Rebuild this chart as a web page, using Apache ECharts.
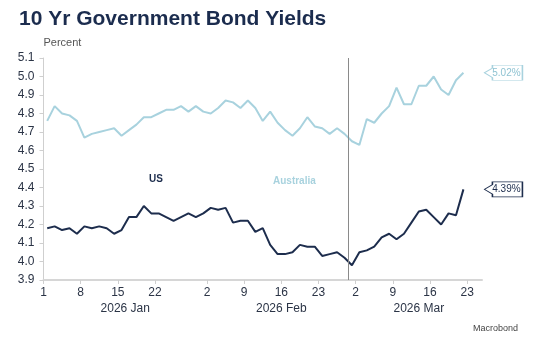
<!DOCTYPE html>
<html>
<head>
<meta charset="utf-8">
<script src="https://cdn.jsdelivr.net/npm/echarts@6/dist/echarts.min.js"></script>
<style>html,body{margin:0;padding:0;background:#fff;}#c{width:538px;height:347px;}</style>
</head>
<body>
<div id="c"></div>
<script>
// Business-day dates (data points)
const dates = [
 '2026-01-02','2026-01-05','2026-01-06','2026-01-07','2026-01-08','2026-01-09',
 '2026-01-12','2026-01-13','2026-01-14','2026-01-15','2026-01-16',
 '2026-01-19','2026-01-20','2026-01-21','2026-01-22','2026-01-23',
 '2026-01-26','2026-01-27','2026-01-28','2026-01-29','2026-01-30',
 '2026-02-02','2026-02-03','2026-02-04','2026-02-05','2026-02-06',
 '2026-02-09','2026-02-10','2026-02-11','2026-02-12','2026-02-13',
 '2026-02-16','2026-02-17','2026-02-18','2026-02-19','2026-02-20',
 '2026-02-23','2026-02-24','2026-02-25','2026-02-26','2026-02-27',
 '2026-03-02','2026-03-03','2026-03-04','2026-03-05','2026-03-06',
 '2026-03-09','2026-03-10','2026-03-11','2026-03-12','2026-03-13',
 '2026-03-16','2026-03-17','2026-03-18','2026-03-19','2026-03-20',
 '2026-03-23'
];
const usYield = [
 4.18,4.19,4.17,4.18,4.15,4.19,4.18,4.19,4.18,4.15,4.17,
 4.24,4.24,4.30,4.26,4.26,4.24,4.22,4.24,4.26,4.24,
 4.26,4.29,4.28,4.29,4.21,4.22,4.22,4.16,4.18,4.09,
 4.04,4.04,4.05,4.09,4.08,4.08,4.03,4.04,4.05,4.02,
 3.98,4.05,4.06,4.08,4.13,4.15,4.12,4.15,4.21,4.27,
 4.28,4.24,4.20,4.26,4.25,4.39
];
const auYield = [
 4.76,4.84,4.80,4.79,4.76,4.67,4.69,4.70,4.71,4.72,4.68,
 4.71,4.74,4.78,4.78,4.80,4.82,4.82,4.84,4.81,4.84,
 4.81,4.80,4.83,4.87,4.86,4.83,4.87,4.83,4.76,4.81,
 4.75,4.71,4.68,4.72,4.78,4.73,4.72,4.69,4.72,4.69,
 4.65,4.63,4.77,4.75,4.80,4.84,4.94,4.85,4.85,4.95,
 4.95,5.00,4.93,4.90,4.98,5.02
];
const tickDates = ['2026-01-01','2026-01-08','2026-01-15','2026-01-22','2026-02-02','2026-02-09',
 '2026-02-16','2026-02-23','2026-03-02','2026-03-09','2026-03-16','2026-03-23'];
const monthStarts = ['2026-01-01','2026-02-02','2026-03-02'];
const monthNames = ['2026 Jan','2026 Feb','2026 Mar'];
const axisEndDate = '2026-03-25';
const markerDate = '2026-02-27';
const yTicks = {min: 3.9, max: 5.1, step: 0.1};

const US_COLOR = '#1d2d4d';
const AU_COLOR = '#a8d2de';
const TEXT = '#2b3446';
const FONT = 'Liberation Sans, Arial, sans-serif';

function parse(s){ const [y,m,d] = s.split('-').map(Number); return new Date(Date.UTC(y,m-1,d)); }
const origin = parse('2026-01-01');
function biz(s){
  const t = parse(s); let n = 0; const d = new Date(origin);
  while (d < t){ d.setUTCDate(d.getUTCDate()+1); const w = d.getUTCDay(); if (w!==0 && w!==6) n++; }
  return n;
}
const xMax = biz(axisEndDate);
const tickIdx = tickDates.map(biz);
const tickDay = {}; tickDates.forEach((s,i)=>{ tickDay[tickIdx[i]] = String(Number(s.slice(8))); });
const mIdx = monthStarts.map(biz).concat([xMax]);
const monthCenters = monthNames.map((n,i)=> (mIdx[i]+mIdx[i+1])/2);
const monthLabel = {}; monthCenters.forEach((c,i)=>{ monthLabel[c] = monthNames[i]; });

const usData = dates.map((d,i)=>[biz(d)-0.5, usYield[i]]);
const auData = dates.map((d,i)=>[biz(d)-0.5, auYield[i]]);

function callout(series, color, val){
  const last = series[series.length-1];
  return {
    symbol: 'path://M0,8 L8,3 L8,0 L38,0 L38,16 L8,16 L8,13 Z',
    symbolSize: [38, 15],
    symbolKeepAspect: false,
    symbolOffset: [40, 0],
    silent: true,
    animation: false,
    itemStyle: {color: '#fff', borderColor: color, borderWidth: 1},
    label: {show: true, position: 'inside', offset: [3, 0], formatter: val.toFixed(2) + '%',
      color: color === AU_COLOR ? '#8fc3d2' : US_COLOR, fontSize: 10, fontFamily: FONT},
    data: [{coord: last}]
  };
}

const chart = echarts.init(document.getElementById('c'), null, {renderer: 'canvas'});
chart.setOption({
  animation: false,
  backgroundColor: '#fff',
  title: {text: '10 Yr Government Bond Yields', left: 19, top: 9, padding: 0,
    textStyle: {fontSize: 21, fontWeight: 'bold', color: '#1b2c4e', fontFamily: FONT}},
  grid: {left: 43.5, right: 56, top: 58, bottom: 67},
  xAxis: [{
    type: 'value', min: 0, max: xMax,
    axisLine: {show: true, onZero: false, lineStyle: {color: '#d6d6d6', width: 2}},
    axisTick: {show: true, customValues: tickIdx, length: 4, lineStyle: {color: '#cfcfcf'}},
    axisLabel: {show: true, customValues: tickIdx, margin: 7, fontSize: 12, color: TEXT, fontFamily: FONT,
      formatter: v => tickDay[v] || ''},
    splitLine: {show: false}
  }, {
    type: 'value', min: 0, max: xMax, position: 'bottom', gridIndex: 0,
    axisLine: {show: false}, axisTick: {show: false},
    axisLabel: {show: true, customValues: monthCenters, margin: 23, fontSize: 12, color: TEXT, fontFamily: FONT,
      formatter: v => monthLabel[v] || ''},
    splitLine: {show: false}
  }],
  yAxis: {
    type: 'value', min: yTicks.min, max: yTicks.max, interval: yTicks.step,
    name: 'Percent', nameLocation: 'end', nameGap: 10,
    nameTextStyle: {align: 'left', fontSize: 11, color: '#555', fontFamily: FONT},
    axisLine: {show: true, lineStyle: {color: '#cfcfcf'}},
    axisTick: {show: true, length: 4, lineStyle: {color: '#cfcfcf'}},
    axisLabel: {margin: 9, fontSize: 12, color: TEXT, fontFamily: FONT, formatter: v => v.toFixed(1)},
    splitLine: {show: false}
  },
  series: [{
    name: 'Australia', type: 'line', data: auData, showSymbol: false, symbol: 'none',
    lineStyle: {color: AU_COLOR, width: 2}, itemStyle: {color: AU_COLOR},
    markPoint: callout(auData, AU_COLOR, auYield[auYield.length-1]),
    markLine: {silent: true, symbol: 'none', animation: false,
      lineStyle: {color: '#8a8a8a', width: 1, type: 'solid'}, label: {show: false},
      data: [{xAxis: biz(markerDate)}]}
  }, {
    name: 'US', type: 'line', data: usData, showSymbol: false, symbol: 'none',
    lineStyle: {color: US_COLOR, width: 2}, itemStyle: {color: US_COLOR},
    markPoint: callout(usData, US_COLOR, usYield[usYield.length-1])
  }],
  graphic: [
    {type: 'text', left: 149, top: 174, style: {text: 'US', fontSize: 10, fontWeight: 'bold', fill: US_COLOR, fontFamily: FONT}},
    {type: 'text', left: 273, top: 176, style: {text: 'Australia', fontSize: 10, fontWeight: 'bold', fill: AU_COLOR, fontFamily: FONT}},
    {type: 'text', right: 20, top: 324, style: {text: 'Macrobond', fontSize: 9, fill: '#444', fontFamily: FONT}}
  ]
});
</script>
</body>
</html>
